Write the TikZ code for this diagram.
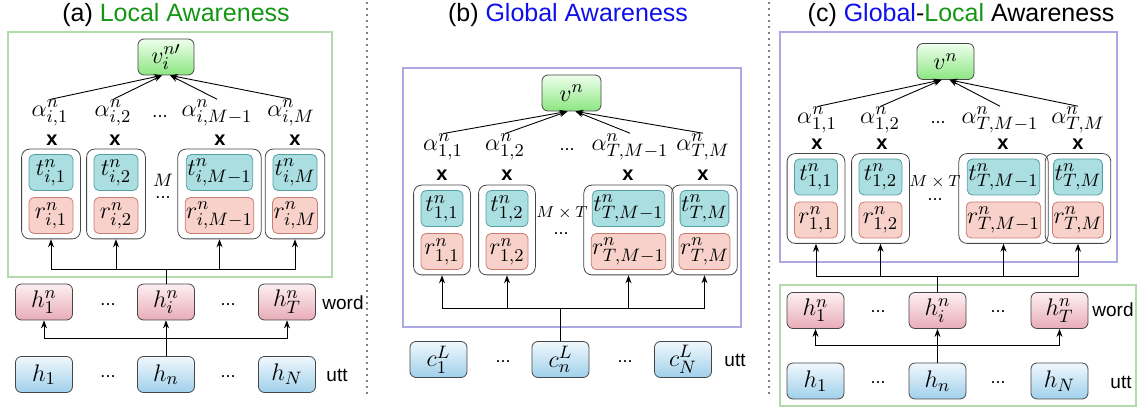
\documentclass[tikz,border=0pt]{standalone}
\usepackage[no-math]{fontspec}
\setmainfont{Liberation Sans}
\usetikzlibrary{arrows.meta,fit,positioning}
\definecolor{lgreen}{RGB}{20,150,20}
\definecolor{gblue}{RGB}{15,15,235}
\definecolor{framegreen}{RGB}{178,218,170}
\definecolor{framepurple}{RGB}{172,168,228}
\definecolor{tfill}{RGB}{170,222,224}
\definecolor{tline}{RGB}{85,160,165}
\definecolor{rfill}{RGB}{248,210,202}
\definecolor{rline}{RGB}{200,125,115}
\definecolor{boxline}{RGB}{70,70,70}
\definecolor{vtop}{RGB}{238,255,236}
\definecolor{vbot}{RGB}{140,230,130}
\definecolor{wtop}{RGB}{253,240,242}
\definecolor{wbot}{RGB}{232,172,184}
\definecolor{utop}{RGB}{240,248,253}
\definecolor{ubot}{RGB}{160,208,235}

\begin{document}
\begin{tikzpicture}[x=0.5pt,y=-0.5pt,
    title/.style={font=\fontsize{12.5}{15}\selectfont},
    lbl/.style={font=\fontsize{13}{15}\selectfont, inner sep=0pt},
    side/.style={font=\fontsize{9.5}{11}\selectfont, inner sep=0pt},
    xmark/.style={font=\fontsize{10}{11}\selectfont\bfseries, inner sep=0pt},
    dotsl/.style={font=\fontsize{9}{11}\selectfont, inner sep=0pt},
    vnode/.style={draw=boxline, rounded corners=3pt, top color=vtop, bottom color=vbot,
      minimum height=18pt, inner sep=1pt, font=\fontsize{12.5}{14}\selectfont},
    tnode/.style={draw=tline, fill=tfill, rounded corners=2.5pt, minimum height=18pt,
      inner sep=0.5pt, font=\fontsize{12.5}{14}\selectfont},
    rnode/.style={tnode, draw=rline, fill=rfill},
    wnode/.style={vnode, top color=wtop, bottom color=wbot, minimum width=28.5pt},
    unode/.style={vnode, top color=utop, bottom color=ubot, minimum width=28.5pt},
    grp/.style={draw=boxline, rounded corners=4pt, inner xsep=3.5pt, inner ysep=2.5pt},
    arr/.style={-{Stealth[length=4pt,width=3pt]}, line width=0.45pt},
    sep/.style={gray, line width=1pt, dash pattern=on 1pt off 2pt}
  ]
  \useasboundingbox (0,0) rectangle (1137,410);

  % separators
  \draw[sep] (367,2) -- (367,395);
  \draw[sep] (769,2) -- (769,395);

  % (a) local awareness
  \node[title] (titleA) at (176,15) {(a) \textcolor{lgreen}{Local Awareness}};
  \draw[framegreen, line width=0.7pt] (8,32) rectangle (332,277);
  \node[vnode, minimum width=28pt] (va) at (166,57) {$v_i^{n\prime}$};
  \node[lbl] (aa1) at (50,113) {$\alpha^n_{i,1}$};
  \node[lbl] (aa2) at (113,113) {$\alpha^n_{i,2}$};
  \node[dotsl] (da) at (160,117) {...};
  \node[lbl] (aa3) at (217,113) {$\alpha^n_{i,M-1}$};
  \node[lbl] (aa4) at (291,113) {$\alpha^n_{i,M}$};
  \node[xmark] (xa1) at (52,140) {x};
  \node[xmark] (xa2) at (115,140) {x};
  \node[xmark] (xa3) at (220,140) {x};
  \node[xmark] (xa4) at (295,140) {x};
  \node[tnode, minimum width=22pt] (ta1) at (51,172.5) {$t^n_{i,1}$};
  \node[rnode, minimum width=22pt] (ra1) at (51,215.5) {$r^n_{i,1}$};
  \node[tnode, minimum width=22pt] (ta2) at (116,172.5) {$t^n_{i,2}$};
  \node[rnode, minimum width=22pt] (ra2) at (116,215.5) {$r^n_{i,2}$};
  \node[tnode, minimum width=32.5pt] (ta3) at (219.5,172.5) {$t^n_{i,M-1}$};
  \node[rnode, minimum width=32.5pt] (ra3) at (219.5,215.5) {$r^n_{i,M-1}$};
  \node[tnode, minimum width=22pt] (ta4) at (295,172.5) {$t^n_{i,M}$};
  \node[rnode, minimum width=22pt] (ra4) at (295,215.5) {$r^n_{i,M}$};
  \node[grp, fit=(ta1)(ra1)] (ga1) {};
  \node[grp, fit=(ta2)(ra2)] (ga2) {};
  \node[grp, fit=(ta3)(ra3)] (ga3) {};
  \node[grp, fit=(ta4)(ra4)] (ga4) {};
  \node[dotsl, font=\fontsize{9}{11}\selectfont] (ma) at (163,180) {$M$};
  \node[dotsl] (dma) at (163,198) {...};
  \node[wnode] (hwa1) at (44,302) {$h^n_1$};
  \node[wnode] (hwa2) at (166,302) {$h^n_i$};
  \node[wnode] (hwa3) at (287,302) {$h^n_T$};
  \node[dotsl] (dwa1) at (108,305) {...};
  \node[dotsl] (dwa2) at (228,305) {...};
  \node[side] (worda) at (343,303) {word};
  \node[unode] (hua1) at (44,374.5) {$h_1$};
  \node[unode] (hua2) at (166,374.5) {$h_n$};
  \node[unode] (hua3) at (287,374.5) {$h_N$};
  \node[dotsl] (dua1) at (108,377) {...};
  \node[dotsl] (dua2) at (228,377) {...};
  \node[side] (utta) at (337,375) {utt};
  \foreach \a in {aa1,aa2} \draw[arr] (\a.north) -- ([xshift=-2pt]va.south);
  \foreach \a in {aa3,aa4} \draw[arr] (\a.north) -- ([xshift=2pt]va.south);
  \coordinate (ba) at (166,269);
  \foreach \g in {ga1,ga2,ga3,ga4} \draw[arr] (hwa2.north) -- (ba) -| (\g.south);
  \coordinate (wa) at (166,338);
  \draw[arr] (hua2.north) -- (hwa2.south);
  \foreach \h in {hwa1,hwa3} \draw[arr] (hua2.north) -- (wa) -| (\h.south);

  % (b) global awareness
  \node[title] (titleB) at (568,15) {(b) \textcolor{gblue}{Global Awareness}};
  \draw[framepurple, line width=0.7pt] (403,68) rectangle (741,327);
  \node[vnode, minimum width=29.5pt] (vb) at (571.5,93) {$v^n$};
  \node[lbl] (ab1) at (443,147) {$\alpha^n_{1,1}$};
  \node[lbl] (ab2) at (505,147) {$\alpha^n_{1,2}$};
  \node[dotsl] (db) at (567,150) {...};
  \node[lbl] (ab3) at (630,147) {$\alpha^n_{T,M-1}$};
  \node[lbl] (ab4) at (703,147) {$\alpha^n_{T,M}$};
  \node[xmark] (xb1) at (442,175) {x};
  \node[xmark] (xb2) at (507,175) {x};
  \node[xmark] (xb3) at (628,175) {x};
  \node[xmark] (xb4) at (703,175) {x};
  \node[tnode, minimum width=21pt] (tb1) at (442,208.5) {$t^n_{1,1}$};
  \node[rnode, minimum width=21pt] (rb1) at (442,251.5) {$r^n_{1,1}$};
  \node[tnode, minimum width=21pt] (tb2) at (507,208.5) {$t^n_{1,2}$};
  \node[rnode, minimum width=21pt] (rb2) at (507,251.5) {$r^n_{1,2}$};
  \node[tnode, minimum width=32pt] (tb3) at (628.5,208.5) {$t^n_{T,M-1}$};
  \node[rnode, minimum width=32pt] (rb3) at (628.5,251.5) {$r^n_{T,M-1}$};
  \node[tnode, minimum width=21.5pt] (tb4) at (704.5,208.5) {$t^n_{T,M}$};
  \node[rnode, minimum width=21.5pt] (rb4) at (704.5,251.5) {$r^n_{T,M}$};
  \node[grp, fit=(tb1)(rb1)] (gb1) {};
  \node[grp, fit=(tb2)(rb2)] (gb2) {};
  \node[grp, fit=(tb3)(rb3)] (gb3) {};
  \node[grp, fit=(tb4)(rb4)] (gb4) {};
  \node[dotsl, font=\fontsize{8.5}{10}\selectfont] (mb) at (562,213) {$M\times T$};
  \node[dotsl] (dmb) at (561,234) {...};
  \node[unode] (cb1) at (438.5,359.5) {$c^L_1$};
  \node[unode] (cb2) at (560.5,359.5) {$c^L_n$};
  \node[unode] (cb3) at (683,359.5) {$c^L_N$};
  \node[dotsl] (dcb1) at (503,362) {...};
  \node[dotsl] (dcb2) at (625,362) {...};
  \node[side] (uttb) at (735,360) {utt};
  \foreach \a in {ab1,ab2} \draw[arr] (\a.north) -- ([xshift=-2pt]vb.south);
  \foreach \a in {ab3,ab4} \draw[arr] (\a.north) -- ([xshift=2pt]vb.south);
  \coordinate (bb) at (560.5,308);
  \foreach \g in {gb1,gb2,gb3,gb4} \draw[arr] (cb2.north) -- (bb) -| (\g.south);

  % (c) global-local awareness
  \node[title] (titleC) at (961,15) {(c) \textcolor{gblue}{Global}-\textcolor{lgreen}{Local} Awareness};
  \draw[framepurple, line width=0.7pt] (780,32) rectangle (1117,262);
  \draw[framegreen, line width=0.7pt] (780,285) rectangle (1136,406);
  \node[vnode, minimum width=28.5pt] (vc) at (945.5,61.5) {$v^n$};
  \node[lbl] (ac1) at (817,120) {$\alpha^n_{1,1}$};
  \node[lbl] (ac2) at (880,120) {$\alpha^n_{1,2}$};
  \node[dotsl] (dc) at (938,123) {...};
  \node[lbl] (ac3) at (1000,120) {$\alpha^n_{T,M-1}$};
  \node[lbl] (ac4) at (1078,120) {$\alpha^n_{T,M}$};
  \node[xmark] (xc1) at (817,144) {x};
  \node[xmark] (xc2) at (882,144) {x};
  \node[xmark] (xc3) at (1003,144) {x};
  \node[xmark] (xc4) at (1078,144) {x};
  \node[tnode, minimum width=21.5pt] (tc1) at (816,177) {$t^n_{1,1}$};
  \node[rnode, minimum width=21.5pt] (rc1) at (816,220) {$r^n_{1,1}$};
  \node[tnode, minimum width=21.5pt] (tc2) at (880.5,177) {$t^n_{1,2}$};
  \node[rnode, minimum width=21.5pt] (rc2) at (880.5,220) {$r^n_{1,2}$};
  \node[tnode, minimum width=32.5pt] (tc3) at (1003.5,177) {$t^n_{T,M-1}$};
  \node[rnode, minimum width=32.5pt] (rc3) at (1003.5,220) {$r^n_{T,M-1}$};
  \node[tnode, minimum width=21.5pt] (tc4) at (1078,177) {$t^n_{T,M}$};
  \node[rnode, minimum width=21.5pt] (rc4) at (1078,220) {$r^n_{T,M}$};
  \node[grp, fit=(tc1)(rc1)] (gc1) {};
  \node[grp, fit=(tc2)(rc2)] (gc2) {};
  \node[grp, fit=(tc3)(rc3)] (gc3) {};
  \node[grp, fit=(tc4)(rc4)] (gc4) {};
  \node[dotsl, font=\fontsize{8.5}{10}\selectfont] (mc) at (935,182) {$M\times T$};
  \node[dotsl] (dmc) at (935,200) {...};
  \node[wnode] (hwc1) at (815.5,310.5) {$h^n_1$};
  \node[wnode] (hwc2) at (937.5,310.5) {$h^n_i$};
  \node[wnode] (hwc3) at (1059.5,310.5) {$h^n_T$};
  \node[dotsl] (dwc1) at (878,312) {...};
  \node[dotsl] (dwc2) at (998,312) {...};
  \node[side] (wordc) at (1113,310) {word};
  \node[unode] (huc1) at (815.5,381) {$h_1$};
  \node[unode] (huc2) at (937.5,381) {$h_n$};
  \node[unode] (huc3) at (1059.5,381) {$h_N$};
  \node[dotsl] (duc1) at (878,383) {...};
  \node[dotsl] (duc2) at (998,383) {...};
  \node[side] (uttc) at (1121,382) {utt};
  \foreach \a in {ac1,ac2} \draw[arr] (\a.north) -- ([xshift=-2pt]vc.south);
  \foreach \a in {ac3,ac4} \draw[arr] (\a.north) -- ([xshift=2pt]vc.south);
  \coordinate (bc) at (937.5,276);
  \foreach \g in {gc1,gc2,gc3,gc4} \draw[arr] (hwc2.north) -- (bc) -| (\g.south);
  \coordinate (wc) at (937.5,345);
  \draw[arr] (huc2.north) -- (hwc2.south);
  \foreach \h in {hwc1,hwc3} \draw[arr] (huc2.north) -- (wc) -| (\h.south);
\end{tikzpicture}
\end{document}
